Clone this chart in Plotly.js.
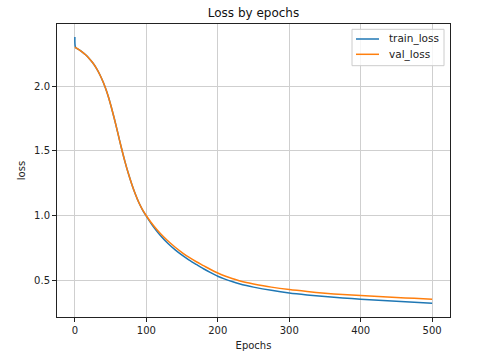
<!DOCTYPE html>
<html>
<head>
<meta charset="utf-8">
<script src="https://cdn.plot.ly/plotly-3.0.1.min.js"></script>
<style>html,body{margin:0;padding:0;background:#fff;}#chart{width:493px;height:357px;}</style>
</head>
<body>
<div id="chart"></div>
<script>
// Epoch sample positions
const epochs = [0, 1, 5, 10, 15, 20, 25, 30, 35, 40, 45, 50, 55, 60, 65, 70, 75, 80, 85, 90, 95, 100,
  110, 120, 130, 140, 150, 160, 170, 180, 190, 200, 210, 220, 230, 240, 250,
  275, 300, 325, 350, 375, 400, 425, 450, 475, 500];
// Training loss
const trainLoss = [2.38, 2.30, 2.284, 2.265, 2.242, 2.214, 2.180, 2.139, 2.088, 2.026, 1.950, 1.858, 1.753, 1.640, 1.525, 1.418, 1.322, 1.236, 1.160, 1.094, 1.040, 0.995,
  0.912, 0.843, 0.785, 0.736, 0.693, 0.655, 0.621, 0.588, 0.558, 0.530, 0.508, 0.489, 0.472, 0.458, 0.446,
  0.421, 0.401, 0.386, 0.373, 0.362, 0.353, 0.345, 0.337, 0.329, 0.322];
// Validation loss
const valLoss = [2.30, 2.297, 2.284, 2.265, 2.242, 2.214, 2.180, 2.139, 2.088, 2.026, 1.950, 1.858, 1.753, 1.640, 1.525, 1.418, 1.322, 1.236, 1.160, 1.094, 1.041, 0.998,
  0.922, 0.858, 0.804, 0.756, 0.713, 0.675, 0.642, 0.612, 0.582, 0.555, 0.532, 0.512, 0.495, 0.481, 0.470,
  0.446, 0.427, 0.412, 0.399, 0.389, 0.381, 0.373, 0.366, 0.359, 0.353];
const seriesNames = ['train_loss', 'val_loss'];
const seriesColors = ['#1f77b4', '#ff7f0e'];
const xTicks = [0, 100, 200, 300, 400, 500];
const yTicks = [0.5, 1.0, 1.5, 2.0];

const font = 'DejaVu Sans, sans-serif';
const traces = [
  {x: epochs, y: trainLoss, name: seriesNames[0], type: 'scatter', mode: 'lines',
   line: {color: seriesColors[0], width: 1.5, shape: 'spline', smoothing: 0.8}},
  {x: epochs, y: valLoss, name: seriesNames[1], type: 'scatter', mode: 'lines',
   line: {color: seriesColors[1], width: 1.5, shape: 'spline', smoothing: 0.8}}
];
const axisCommon = {
  showline: true, mirror: true, linecolor: '#222', linewidth: 1,
  ticks: 'outside', ticklen: 4, tickwidth: 1, tickcolor: '#222',
  showgrid: true, gridcolor: '#cfcfcf', gridwidth: 1, zeroline: false,
  tickfont: {family: font, size: 10, color: '#222'}, automargin: false
};

// Legend drawn in the upper-right corner (matplotlib style)
const L = 57, W = 393, B = 317, H = 293;
const px = v => (v - L) / W;
const py = v => (B - v) / H;
const shapes = [
  {type: 'rect', xref: 'paper', yref: 'paper', x0: px(352), x1: px(444), y0: py(65.7), y1: py(29.3),
   line: {color: '#cccccc', width: 1}, fillcolor: 'rgba(255,255,255,0.8)', layer: 'above'}
];
const annotations = [];
const rowY = [39, 54.3];
seriesNames.forEach((n, i) => {
  shapes.push({type: 'line', xref: 'paper', yref: 'paper', x0: px(356), x1: px(379), y0: py(rowY[i]), y1: py(rowY[i]),
    line: {color: seriesColors[i], width: 1.5}, layer: 'above'});
  annotations.push({xref: 'paper', yref: 'paper', x: px(386.5), y: py(rowY[i]), xanchor: 'left', yanchor: 'middle',
    text: n, showarrow: false, font: {family: font, size: 10.5, color: '#222'}});
});

const layout = {
  width: 493, height: 357,
  margin: {l: 57, r: 43, t: 24, b: 40},
  paper_bgcolor: '#fff', plot_bgcolor: '#fff',
  font: {family: font, color: '#222'},
  title: {text: 'Loss by epochs', font: {family: font, size: 12, color: '#111'},
          x: 0.5, xref: 'paper', y: 1 - 12.7 / 357, yref: 'container', yanchor: 'middle'},
  xaxis: Object.assign({}, axisCommon, {
    range: [-25, 525], tickmode: 'array', tickvals: xTicks, ticktext: xTicks.map(String),
    title: {text: 'Epochs', font: {family: font, size: 10, color: '#222'}, standoff: 6}
  }),
  yaxis: Object.assign({}, axisCommon, {
    range: [0.215, 2.48], tickmode: 'array', tickvals: yTicks, ticktext: yTicks.map(v => v.toFixed(1)),
    title: {text: 'loss', font: {family: font, size: 10, color: '#222'}, standoff: 6}
  }),
  showlegend: false,
  shapes: shapes,
  annotations: annotations
};
Plotly.newPlot('chart', traces, layout, {displayModeBar: false, staticPlot: true});
</script>
</body>
</html>
